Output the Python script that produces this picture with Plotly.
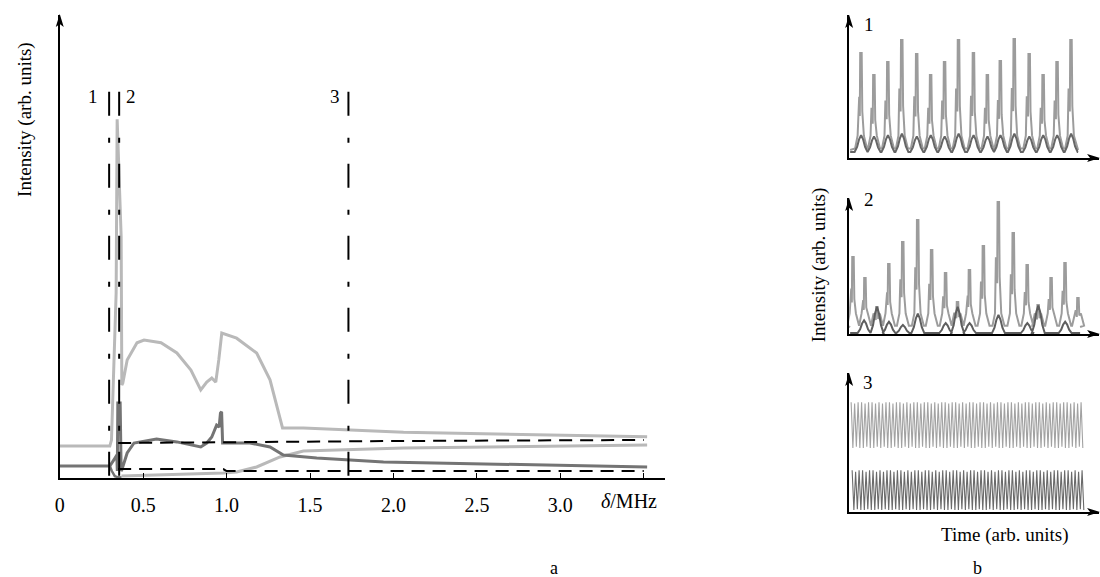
import plotly.graph_objects as go

W, H = 1100, 577
def px(x): return x / W
def py(y): return 1 - y / H

FONT = "Liberation Serif"
LIGHT = "#b9b9b9"
DARK = "#747474"

# ---------------- Panel a: intensity vs detuning ----------------
a_light_upper_d = [0, 0.30, 0.31, 0.322, 0.338, 0.344, 0.352, 0.362, 0.368, 0.372, 0.378, 0.404, 0.463, 0.505,
                   0.607, 0.702, 0.786, 0.845, 0.881, 0.911, 0.935, 0.953, 0.971, 1.06, 1.18, 1.26, 1.32,
                   1.335, 1.46, 2.06, 3.52]
a_light_upper_i = [6.9, 6.9, 8.2, 23.3, 40.0, 77.5, 70.0, 60.0, 52.1, 20.1, 20.5, 25.5, 29.2, 29.8,
                   29.2, 27.0, 23.3, 19.0, 20.7, 21.6, 20.7, 25.5, 31.3, 30.2, 27.0, 21.2, 12.5,
                   10.8, 10.8, 9.9, 8.9]

a_light_lower_d = [0.37, 0.6, 0.9, 0.98, 1.06, 1.18, 1.32, 1.46, 2.06, 3.52]
a_light_lower_i = [0.43, 0.65, 0.86, 1.08, 1.30, 2.38, 4.54, 5.83, 6.48, 7.13]

a_dark_upper_d = [0, 0.30, 0.335, 0.342, 0.345, 0.348, 0.362, 0.368, 0.372, 0.404, 0.445, 0.58, 0.702,
                  0.845, 0.881, 0.911, 0.94, 0.955, 0.963, 0.97, 0.976, 1.14, 1.26, 1.34, 1.54, 1.94, 3.52]
a_dark_upper_i = [2.59, 2.59, 4.5, 5.0, 1.5, 16.2, 16.2, 1.5, 1.73, 5.4, 7.56, 8.42, 7.8,
                  6.7, 7.56, 8.86, 11.4, 11.0, 14.0, 14.3, 7.56, 7.56, 6.7, 4.97, 4.32, 3.46, 2.38]

a_dark_lower_d = [0.30, 0.312, 0.33, 0.35, 0.37]
a_dark_lower_i = [2.59, 1.5, 0.4, 0.15, 0.1]

a_dash_upper_d = [0.35, 1.0, 2.0, 3.5]
a_dash_upper_i = [7.56, 7.78, 7.99, 8.21]
a_dash_lower_d = [0.35, 0.98, 1.0, 3.5]
a_dash_lower_i = [1.94, 1.94, 1.51, 1.51]

a_marker_d = [0.296, 0.356, 1.73]
a_marker_labels = ["1", "2", "3"]
a_marker_top = 83.4

a_tickvals = [0, 0.5, 1.0, 1.5, 2.0, 2.5, 3.0, 3.5]
a_ticktext = ["0", "0.5", "1.0", "1.5", "2.0", "2.5", "3.0", ""]

# ---------------- Panel b1 ----------------
b1_peak_t = [12, 25, 39, 53, 68, 82, 96, 110, 125, 139, 152, 166, 181, 195, 209, 223]
b1_peak_i = [73.4, 58.0, 67.1, 82.5, 72.7, 58.0, 67.1, 82.5, 73.4, 58.0, 67.8, 83.2, 72.7, 58.0, 67.1, 82.5]
b1_light_base = 5.6
b1_dark_top = [16, 15, 16, 17, 15, 16, 15, 17, 16, 15, 16, 17, 15, 16, 16, 17]
b1_dark_base = 4.2

# ---------------- Panel b2 ----------------
b2_peak_t = [4, 16, 28, 40, 54, 69, 83, 97, 109, 121, 135, 150, 165, 179, 190, 203, 217, 230]
b2_peak_i = [56.6, 41.2, 19.9, 51.5, 67.6, 83.8, 61.8, 44.9, 23.5, 47.1, 64.7, 97.1, 74.3, 50.7, 21.3,
             41.2, 52.2, 26.5]
b2_light_base = 5.1
b2_dark_t = [15, 28, 40, 54, 69, 97, 109, 121, 150, 179, 190, 217]
b2_dark_i = [10, 20, 9, 6.6, 15, 8, 20, 8, 14, 8, 21, 9]
b2_dark_base = 0.7

# ---------------- Panel b3 ----------------
b3_up_hi = [79, 78, 79, 79, 78, 79, 79, 78, 79, 78, 79, 79, 78, 79, 79, 78, 79, 78, 79, 79, 78, 79, 79,
            78, 79, 78, 79, 79, 78, 79, 79, 78, 79, 78, 79, 79, 78, 79, 79, 78, 79, 78, 79, 79, 78, 79,
            79, 78, 79, 78, 79, 79, 78, 79, 79, 78, 79, 78, 79, 79, 78, 79, 79, 78, 79, 78, 79]
b3_up_lo = [46, 47, 46, 46, 47, 46, 46, 47, 46, 47, 46, 46, 47, 46, 46, 47, 46, 47, 46, 46, 47, 46, 46,
            47, 46, 47, 46, 46, 47, 46, 46, 47, 46, 47, 46, 46, 47, 46, 46, 47, 46, 47, 46, 46, 47, 46,
            46, 47, 46, 47, 46, 46, 47, 46, 46, 47, 46, 47, 46, 46, 47, 46, 46, 47, 46, 47, 46]
b3_dn_hi = [30, 29, 30, 30, 29, 30, 30, 29, 30, 29, 30, 30, 29, 30, 30, 29, 30, 29, 30, 30, 29, 30, 30,
            29, 30, 29, 30, 30, 29, 30, 30, 29, 30, 29, 30, 30, 29, 30, 30, 29, 30, 29, 30, 30, 29, 30,
            30, 29, 30, 29, 30, 30, 29, 30, 30, 29, 30, 29, 30, 30, 29, 30, 30, 29, 30, 29, 30]
b3_dn_lo = [1.5, 2, 1.5, 1.5, 2, 1.5, 1.5, 2, 1.5, 2, 1.5, 1.5, 2, 1.5, 1.5, 2, 1.5, 2, 1.5, 1.5, 2, 1.5,
            1.5, 2, 1.5, 2, 1.5, 1.5, 2, 1.5, 1.5, 2, 1.5, 2, 1.5, 1.5, 2, 1.5, 1.5, 2, 1.5, 2, 1.5, 1.5,
            2, 1.5, 1.5, 2, 1.5, 2, 1.5, 1.5, 2, 1.5, 1.5, 2, 1.5, 2, 1.5, 1.5, 2, 1.5, 1.5, 2, 1.5, 2, 1.5]
b3_t0 = 2.0
b3_period = 3.5


def spikes(ts, hs, base, start, end):
    xs, ys = [start], [base]
    for t, h in zip(ts, hs):
        r = h - base
        xs += [t - 6, t - 3.5, t - 2.6, t - 1.9, t - 1.3, t - 0.9, t + 0.6, t + 1.2, t + 2.8, t + 6]
        ys += [base + 1, base + 10, base + 0.55 * r, base + 0.55 * r, base + 0.35 * r, h, h,
               base + 0.4 * r, base + 10, base + 1]
    xs.append(end)
    ys.append(base)
    return xs, ys


def bumps(ts, hs, base, start, end):
    xs, ys = [start], [base]
    for t, h in zip(ts, hs):
        r = h - base
        xs += [t - 6.5, t - 4, t - 2, t, t + 2, t + 4, t + 6.5]
        ys += [base, base + 0.3 * r, base + 0.75 * r, h, base + 0.75 * r, base + 0.3 * r, base]
    xs.append(end)
    ys.append(base)
    return xs, ys


def band(hi, lo, t0, period):
    xs, ys = [], []
    for k, (a, b) in enumerate(zip(hi, lo)):
        xs += [t0 + k * period, t0 + k * period + period / 2]
        ys += [a, b]
    return xs, ys


fig = go.Figure()

def add(x, y, color, width, ax="x", ay="y", dash="solid"):
    fig.add_trace(go.Scatter(x=x, y=y, mode="lines", line=dict(color=color, width=width, dash=dash),
                             xaxis=ax, yaxis=ay, hoverinfo="skip", showlegend=False))

# panel a
add(a_light_upper_d, a_light_upper_i, LIGHT, 3)
add(a_light_lower_d, a_light_lower_i, LIGHT, 3)
add(a_dark_upper_d, a_dark_upper_i, DARK, 3)
add(a_dark_lower_d, a_dark_lower_i, DARK, 2.5)
add(a_dash_upper_d, a_dash_upper_i, "black", 2, dash="13px,8px")
add(a_dash_lower_d, a_dash_lower_i, "black", 2, dash="13px,8px")
for d in a_marker_d:
    add([d, d], [a_marker_top, 0], "black", 2, dash="24px,22px,5px,21px")

# panel b1
x, y = spikes(b1_peak_t, b1_peak_i, b1_light_base, 1, 230)
add(x, y, "#9c9c9c", 2, "x2", "y2")
x, y = bumps(b1_peak_t, b1_dark_top, b1_dark_base, 1, 230)
add(x, y, "#666666", 2, "x2", "y2")

# panel b2
x, y = spikes(b2_peak_t, b2_peak_i, b2_light_base, 1, 232)
add(x, y, "#9c9c9c", 2, "x3", "y3")
x, y = bumps(b2_dark_t, b2_dark_i, b2_dark_base, 1, 232)
add(x, y, "#5e5e5e", 2, "x3", "y3")

# panel b3
x, y = band(b3_up_hi, b3_up_lo, b3_t0, b3_period)
add(x, y, "#a2a2a2", 1.1, "x4", "y4")
x, y = band(b3_dn_hi, b3_dn_lo, b3_t0 + 1, b3_period)
add(x, y, "#6a6a6a", 1.1, "x4", "y4")

axis_common = dict(showline=True, linecolor="black", linewidth=1.5, showgrid=False, zeroline=False,
                   fixedrange=True)

layout = dict(
    width=W, height=H, margin=dict(l=0, r=0, t=0, b=0),
    paper_bgcolor="white", plot_bgcolor="white",
    xaxis=dict(domain=[px(55), px(663)], range=[0, 3.627], anchor="y",
               ticks="inside", ticklen=5, tickwidth=1.2, tickcolor="black",
               tickvals=a_tickvals, ticktext=a_ticktext, ticklabelstandoff=8,
               tickfont=dict(family=FONT, size=20, color="black"), **axis_common),
    yaxis=dict(domain=[py(478), py(15)], range=[0, 100], anchor="x", showticklabels=False, ticks="",
               **axis_common),
    xaxis2=dict(domain=[px(848), px(1099)], range=[0, 251], anchor="y2", showticklabels=False, ticks="",
                **axis_common),
    yaxis2=dict(domain=[py(158), py(15)], range=[0, 100], anchor="x2", showticklabels=False, ticks="",
                **axis_common),
    xaxis3=dict(domain=[px(848), px(1099)], range=[0, 251], anchor="y3", showticklabels=False, ticks="",
                **axis_common),
    yaxis3=dict(domain=[py(334), py(198)], range=[0, 100], anchor="x3", showticklabels=False, ticks="",
                **axis_common),
    xaxis4=dict(domain=[px(848), px(1099)], range=[0, 251], anchor="y4", showticklabels=False, ticks="",
                **axis_common),
    yaxis4=dict(domain=[py(512), py(373)], range=[0, 100], anchor="x4", showticklabels=False, ticks="",
                **axis_common),
)
fig.update_layout(**layout)

# arrowheads
def arrow_up(x, y):
    return dict(type="path", xref="paper", yref="paper", fillcolor="black", line=dict(width=0),
                path=f"M {px(x)} {py(y)} L {px(x-4)} {py(y+13)} L {px(x)} {py(y+10)} L {px(x+4)} {py(y+13)} Z")

def arrow_right(x, y):
    return dict(type="path", xref="paper", yref="paper", fillcolor="black", line=dict(width=0),
                path=f"M {px(x)} {py(y)} L {px(x-13)} {py(y-4)} L {px(x-10)} {py(y)} L {px(x-13)} {py(y+4)} Z")

shapes = [arrow_up(55, 14), arrow_up(848, 15), arrow_up(848, 198), arrow_up(848, 373),
          arrow_right(1100, 158), arrow_right(1100, 334), arrow_right(1100, 512)]
fig.update_layout(shapes=shapes)

ann = []
def text(x, y, s, size=20, angle=0):
    ann.append(dict(x=px(x), y=py(y), xref="paper", yref="paper", text=s, showarrow=False,
                    textangle=angle, xanchor="center", yanchor="middle",
                    font=dict(family=FONT, size=size, color="black")))

text(20, 119, "Intensity (arb. units)", 19, -90)
text(627, 501, "<i>δ</i>/MHz", 20)
for d, lab, xo in zip(a_marker_d, a_marker_labels, [-16, 12, -13]):
    ann.append(dict(x=d, y=a_marker_top - 1, xref="x", yref="y", text=lab, showarrow=False,
                    xshift=xo, yanchor="middle", font=dict(family=FONT, size=19, color="black")))
text(552, 568, "a", 18)
text(977, 568, "b", 18)
text(868, 25, "1", 19)
text(868, 199, "2", 19)
text(867, 383, "3", 19)
text(818, 265, "Intensity (arb. units)", 19, -90)
text(1005, 535, "Time (arb. units)", 19)
fig.update_layout(annotations=ann)

fig.write_html("out.html")
